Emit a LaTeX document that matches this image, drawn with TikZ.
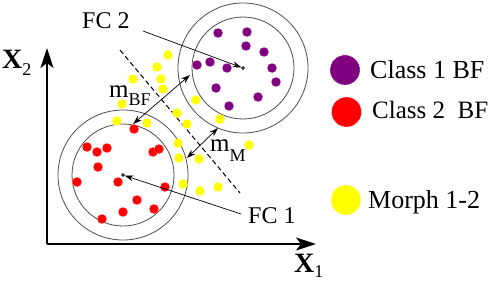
\documentclass[tikz,border=0pt]{standalone}
\usepackage{fontspec}
\setmainfont{Liberation Serif}
\usetikzlibrary{arrows.meta}
\definecolor{purp}{RGB}{128,0,128}
\definecolor{redd}{RGB}{255,0,0}
\definecolor{yell}{RGB}{255,255,0}
\newcommand{\lbl}{\fontsize{24}{26}\selectfont}
\newcommand{\sbl}{\fontsize{18}{20}\selectfont}
\begin{document}
\begin{tikzpicture}[x=1pt,y=-1pt,
  ring/.style={draw=black!70, line width=0.8pt},
  dotbase/.style={circle, inner sep=0pt, minimum size=9.5pt, line width=0.5pt, densely dotted},
  pdot/.style={dotbase, fill=purp, draw=purp!35},
  rdot/.style={dotbase, fill=redd, draw=redd!35},
  ydot/.style={dotbase, fill=yell, draw=yell!35},
  legdot/.style={circle, inner sep=0pt, minimum size=30pt, line width=0.6pt, densely dotted, draw=white},
  cdot/.style={circle, draw=black, fill=black!60, inner sep=0pt, minimum size=3pt, line width=0.4pt},
  txt/.style={inner sep=0pt, anchor=base west},
  fcarrow/.style={draw=black, line width=0.7pt, -{Stealth[length=9pt,width=6pt,inset=3pt]}},
  marrow/.style={draw=black, line width=0.7pt, {Stealth[length=9pt,width=6pt,inset=3pt]}-{Stealth[length=9pt,width=6pt,inset=3pt]}},
  axis/.style={draw=black, line width=1.8pt, -{Stealth[length=20pt,width=13pt,inset=5pt]}}
]
\useasboundingbox (0,0) rectangle (490,282);

% axes
\coordinate (O) at (47,244);
\coordinate (ytip) at (47,48);
\coordinate (xtip) at (316,244);
\draw[axis] (O) -- (ytip);
\draw[axis] (O) -- (xtip);
\node[txt] (x2) at (2,68) {\fontsize{28}{30}\selectfont\textbf{X}\raisebox{-7pt}{\sbl 2}};
\node[txt] (x1) at (294,272) {\fontsize{28}{30}\selectfont\textbf{X}\raisebox{-5pt}{\sbl 1}};

% circles
\node[cdot] (c1) at (123,175) {};
\node[cdot] (c2) at (243,68) {};
\draw[ring] (c1.center) circle[radius=65pt];
\draw[ring] (c1.center) circle[radius=51pt];
\draw[ring] (c2.center) circle[radius=65pt];
\draw[ring] (c2.center) circle[radius=51pt];

% dashed separator
\coordinate (d1) at (120,50);
\coordinate (d2) at (240,193);
\draw[line width=1pt, dash pattern=on 5pt off 3pt] (d1) -- (d2);

% purple dots
\foreach \x/\y [count=\i] in {218/33,247/32,246/46,264/52,197/65,210/62,227/68,272/68,276/82,216/88,258/97,229/106}
  \node[pdot] (p\i) at (\x,\y) {};
% red dots
\foreach \x/\y [count=\i] in {134/129,87/147,97/152,107/148,153/152,159/149,98/167,77/182,118/182,165/187,137/200,154/209,123/212,102/219}
  \node[rdot] (r\i) at (\x,\y) {};
% yellow dots
\foreach \x/\y [count=\i] in {168/55,157/67,133/79,161/79,163/89,122/104,117/121,147/123,177/113,187/124,196/100,220/119,178/143,179/158,199/159,183/184,200/191,218/187,249/145}
  \node[ydot] (y\i) at (\x,\y) {};

% FC labels and arrows
\node[txt] (fc2) at (82,28) {\lbl FC 2};
\coordinate (fc2s) at (143,31);
\draw[fcarrow] (fc2s) -- (c2);
\node[txt] (fc1) at (248,223) {\lbl FC 1};
\coordinate (fc1s) at (241,214);
\draw[fcarrow] (fc1s) -- (c1);

% margin arrows
\coordinate (mb1) at (133,124);
\coordinate (mb2) at (190,75);
\draw[marrow] (mb1) -- (mb2);
\coordinate (mm1) at (187,158);
\coordinate (mm2) at (218,128);
\draw[marrow] (mm1) -- (mm2);
\node[txt] (mbf) at (109,97) {\fontsize{25}{27}\selectfont m\raisebox{-8pt}{\sbl BF}};
\node[txt] (mm) at (210,151) {\fontsize{25}{27}\selectfont m\raisebox{-10pt}{\sbl M}};

% legend
\node[legdot, fill=purp] (l1) at (345,70) {};
\node[txt] (t1) at (370,78) {\fontsize{26}{28}\selectfont Class 1 BF};
\node[legdot, fill=redd] (l2) at (346.5,112) {};
\node[txt] (t2) at (372,118) {\fontsize{25}{27}\selectfont Class 2\ \ BF};
\node[legdot, fill=yell] (l3) at (346,200) {};
\node[txt] (t3) at (368,208) {\fontsize{26}{28}\selectfont Morph 1-2};
\end{tikzpicture}
\end{document}
